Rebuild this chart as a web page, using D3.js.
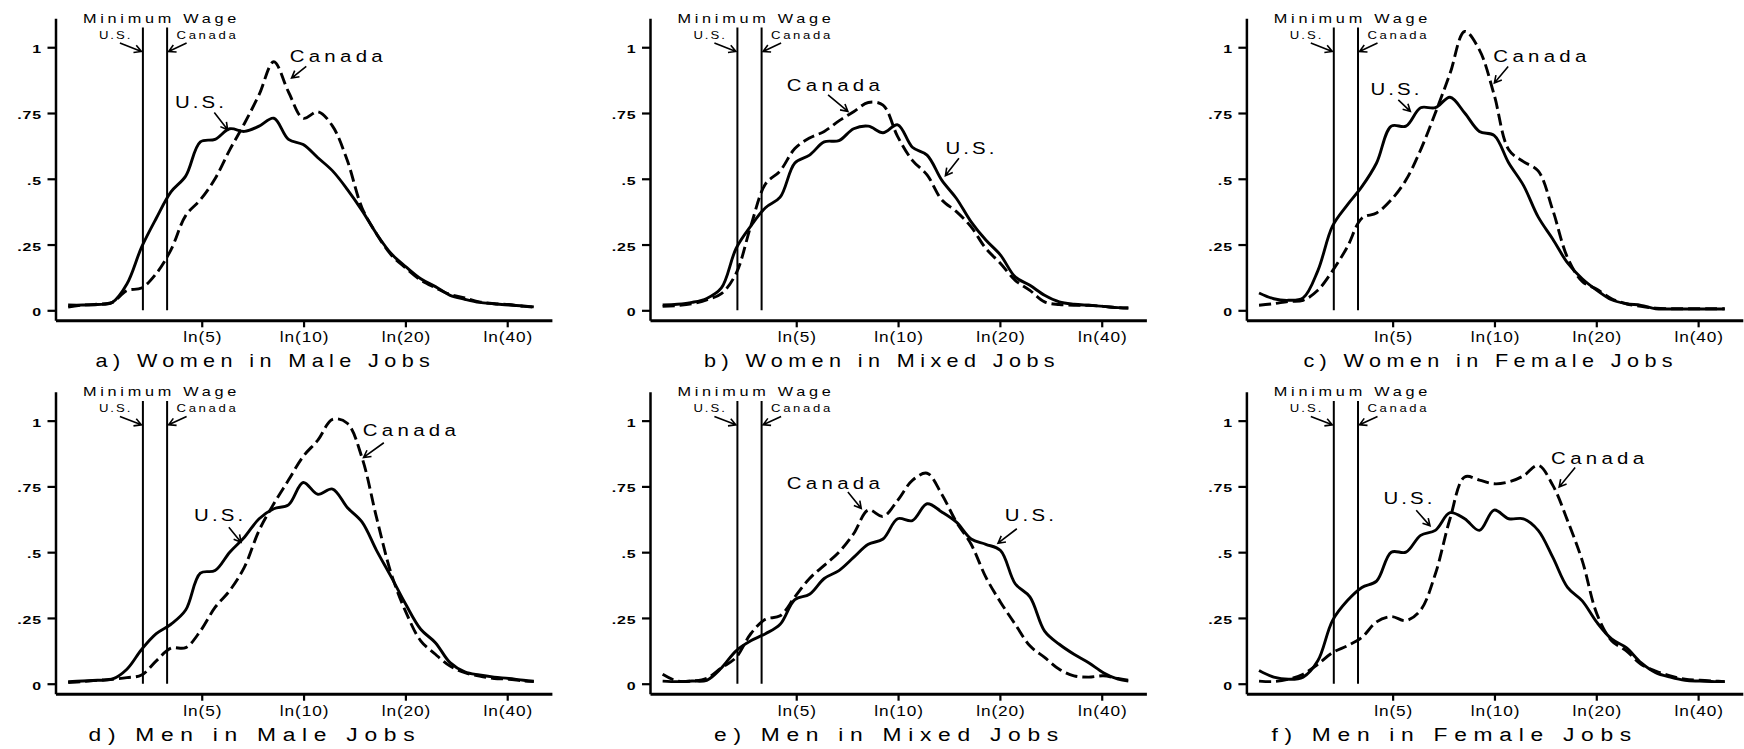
<!DOCTYPE html>
<html><head><meta charset="utf-8">
<script src="https://cdn.jsdelivr.net/npm/d3@7"></script>
<style>
html,body{margin:0;padding:0;background:#fff;}
svg{display:block;}
text{font-family:"Liberation Sans",Arial,Helvetica,sans-serif;fill:#000;}
</style></head><body>
<svg id="chart" width="1744" height="749"></svg>
<script>
// ---- data ----
const lnWage = [0.7,0.8,0.9,1.0,1.1,1.2,1.3,1.4,1.5,1.6,1.7,1.8,1.9,2.0,2.1,2.2,2.3,2.4,2.5,2.6,2.7,2.8,2.9,3.0,3.1,3.2,3.3,3.4,3.5,3.6,3.7,3.8,3.87];
const xTickWages = [5,10,20,40];
const xTickLabels = ["ln(5)","ln(10)","ln(20)","ln(40)"];
const yTickValues = [0,0.25,0.5,0.75,1];
const yTickLabels = ["0",".25",".5",".75","1"];
const minWageUS = 3.35, minWageCanada = 3.95;
const panelTitles = ["a) Women in Male Jobs","b) Women in Mixed Jobs","c) Women in Female Jobs","d) Men in Male Jobs","e) Men in Mixed Jobs","f) Men in Female Jobs"];

const usA = [0.02,0.02,0.022,0.03,0.10,0.24,0.35,0.45,0.51,0.64,0.65,0.69,0.68,0.70,0.73,0.65,0.63,0.58,0.53,0.46,0.38,0.29,0.215,0.165,0.12,0.09,0.057,0.042,0.03,0.025,0.02,0.017,0.013];
const canadaA = [0.012,0.02,0.023,0.03,0.075,0.085,0.14,0.23,0.36,0.42,0.50,0.61,0.71,0.82,0.945,0.83,0.73,0.755,0.70,0.57,0.39,0.29,0.21,0.16,0.115,0.086,0.06,0.047,0.032,0.025,0.022,0.015,0.012];
const usB = [0.02,0.023,0.03,0.045,0.085,0.235,0.32,0.39,0.43,0.56,0.59,0.64,0.645,0.69,0.70,0.675,0.705,0.62,0.59,0.495,0.425,0.336,0.267,0.21,0.127,0.095,0.057,0.032,0.023,0.019,0.015,0.01,0.009];
const canadaB = [0.015,0.018,0.025,0.04,0.063,0.14,0.32,0.48,0.53,0.615,0.655,0.68,0.72,0.755,0.79,0.78,0.66,0.57,0.515,0.42,0.375,0.317,0.235,0.178,0.114,0.076,0.032,0.022,0.019,0.019,0.015,0.01,0.009];
const usC = [0.066,0.044,0.038,0.047,0.15,0.32,0.40,0.47,0.56,0.70,0.70,0.77,0.77,0.81,0.75,0.68,0.665,0.56,0.475,0.355,0.27,0.18,0.12,0.076,0.04,0.025,0.019,0.006,0.005,0.005,0.005,0.005,0.005];
const canadaC = [0.019,0.025,0.034,0.038,0.076,0.15,0.24,0.35,0.37,0.42,0.495,0.61,0.75,0.90,1.06,0.99,0.82,0.61,0.565,0.53,0.38,0.20,0.11,0.08,0.044,0.025,0.015,0.008,0.006,0.006,0.006,0.006,0.006];
const usD = [0.008,0.01,0.013,0.017,0.055,0.13,0.19,0.226,0.28,0.42,0.43,0.50,0.557,0.627,0.665,0.68,0.765,0.72,0.74,0.67,0.615,0.506,0.405,0.30,0.207,0.156,0.08,0.045,0.033,0.025,0.02,0.013,0.01];
const canadaD = [0.004,0.008,0.013,0.017,0.023,0.033,0.087,0.135,0.137,0.20,0.29,0.354,0.443,0.583,0.684,0.774,0.864,0.926,1.005,0.99,0.86,0.63,0.417,0.271,0.163,0.112,0.067,0.042,0.029,0.02,0.017,0.01,0.008];
const usE = [0.01,0.008,0.01,0.013,0.06,0.125,0.163,0.19,0.226,0.32,0.34,0.40,0.43,0.48,0.53,0.55,0.627,0.62,0.684,0.653,0.614,0.55,0.53,0.506,0.38,0.33,0.20,0.15,0.112,0.08,0.042,0.017,0.01];
const canadaE = [0.036,0.01,0.01,0.02,0.06,0.10,0.19,0.245,0.258,0.33,0.40,0.45,0.50,0.57,0.66,0.636,0.697,0.773,0.80,0.72,0.614,0.53,0.405,0.31,0.226,0.144,0.10,0.055,0.03,0.025,0.03,0.02,0.013];
const usF = [0.05,0.025,0.017,0.025,0.087,0.24,0.315,0.366,0.39,0.50,0.50,0.564,0.583,0.65,0.627,0.583,0.66,0.627,0.627,0.583,0.48,0.366,0.315,0.233,0.17,0.137,0.08,0.042,0.025,0.013,0.01,0.008,0.008];
const canadaF = [0.01,0.008,0.017,0.036,0.074,0.118,0.144,0.176,0.235,0.255,0.24,0.28,0.417,0.627,0.786,0.774,0.76,0.767,0.79,0.83,0.754,0.62,0.468,0.265,0.163,0.125,0.074,0.048,0.03,0.017,0.013,0.01,0.008];

const usSeries = [usA,usB,usC,usD,usE,usF];
const canadaSeries = [canadaA,canadaB,canadaC,canadaD,canadaE,canadaF];

// ---- layout (pixels / label anchor positions in data units) ----
const colX = [55.5, 650, 1246.4];
const rowTop = [18.3, 391.7];
const plotW = 496.4, plotH = 302;
const titleBase = [367, 741];
const titleDx = [40, 54, 57, 33, 64, 25];
const titleSize = [18, 19];
const titleSpacing = [4.5, 5.6];
// [labelX, labelY, arrowTailX, arrowTailY, arrowHeadX, arrowHeadY] in (ln wage, density)
const canadaNote = [
  [2.208,0.942, 2.321,0.927, 2.221,0.883],
  [1.545,0.832, 1.826,0.819, 1.961,0.756],
  [2.295,0.942, 2.396,0.927, 2.302,0.864],
  [2.706,0.942, 2.849,0.916, 2.711,0.860],
  [1.545,0.742, 1.961,0.729, 2.052,0.666],
  [2.688,0.835, 2.852,0.822, 2.743,0.748]];
const usNote = [
  [1.427,0.769, 1.695,0.752, 1.786,0.686],
  [2.625,0.595, 2.717,0.578, 2.625,0.512],
  [1.458,0.819, 1.648,0.800, 1.730,0.756],
  [1.557,0.618, 1.794,0.595, 1.877,0.538],
  [3.029,0.618, 3.111,0.589, 2.983,0.534],
  [1.547,0.685, 1.770,0.659, 1.864,0.600]];

const svg = d3.select("#chart");
const x = d3.scaleLinear().domain([0.614, 3.993]).range([0, plotW]);
const y = d3.scaleLinear().domain([-0.038, 1.11]).range([plotH, 0]);
const line = d3.line().x(d => x(d[0])).y(d => y(d[1])).curve(d3.curveCatmullRom.alpha(0.5));

function arrow(g, x1, y1, x2, y2) {
  const a = Math.atan2(y2 - y1, x2 - x1), L = 8, w = 0.5;
  const p = `M${x1},${y1}L${x2},${y2}M${x2 - L*Math.cos(a - w)},${y2 - L*Math.sin(a - w)}L${x2},${y2}L${x2 - L*Math.cos(a + w)},${y2 - L*Math.sin(a + w)}`;
  g.append("path").attr("d", p).attr("fill", "none").attr("stroke", "#000").attr("stroke-width", 1.6);
}
// text whose glyphs are widened horizontally, as in the reference scan
function wideText(g, X, Y, str, size, sx, ls, anchor) {
  return g.append("text").attr("transform", `translate(${X},${Y}) scale(${sx},1)`)
    .attr("font-size", size).attr("letter-spacing", ls)
    .attr("text-anchor", anchor || "start").text(str);
}

panelTitles.forEach((title, i) => {
  const row = Math.floor(i / 3), col = i % 3;
  const g = svg.append("g").attr("transform", `translate(${colX[col]},${rowTop[row]})`);

  // axes
  const yAx = g.append("g").call(d3.axisLeft(y).tickValues(yTickValues)
      .tickFormat((d, k) => yTickLabels[k]).tickSize(8).tickSizeOuter(0));
  yAx.select(".domain").attr("stroke-width", 2.5);
  yAx.selectAll(".tick line").attr("stroke-width", 2.2);
  yAx.selectAll(".tick text").attr("font-size", 11).attr("font-weight", "bold")
     .attr("letter-spacing", 0.6).attr("transform", "scale(1.45,1)")
     .attr("x", -13.5 / 1.45).attr("dy", "0.5em")
     .style("font-family", '"Liberation Sans",Arial,sans-serif');

  const xAx = g.append("g").attr("transform", `translate(0,${plotH})`)
    .call(d3.axisBottom(x).tickValues(xTickWages.map(Math.log))
      .tickFormat((d, k) => xTickLabels[k]).tickSize(7).tickSizeOuter(0));
  xAx.select(".domain").attr("stroke-width", 3);
  xAx.selectAll(".tick line").attr("stroke-width", 2.2);
  xAx.selectAll(".tick text").attr("font-size", 15).attr("letter-spacing", 0.8)
     .attr("transform", "scale(1.15,1)")
     .attr("y", 22).attr("dy", 0).attr("dx", 0.5)
     .style("font-family", '"Liberation Sans",Arial,sans-serif');

  // minimum wage lines
  const xu = x(Math.log(minWageUS)), xc = x(Math.log(minWageCanada));
  [xu, xc].forEach(xx => g.append("line").attr("x1", xx).attr("x2", xx)
    .attr("y1", y(0)).attr("y2", y(1.075)).attr("stroke", "#000").attr("stroke-width", 2));
  wideText(g, xu - 60, y(1.094), "Minimum Wage", 13, 1.25, 3);
  wideText(g, xu - 10.5, y(1.031), "U.S.", 10.5, 1.25, 1.6, "end");
  wideText(g, xc + 9.5, y(1.031), "Canada", 10.5, 1.25, 2.1);
  arrow(g, xu - 23, y(1.016), xu - 1.5, y(0.984));
  arrow(g, xc + 19.5, y(1.016), xc + 1.5, y(0.984));

  // density curves
  g.append("path").datum(lnWage.map((w, k) => [w, usSeries[i][k]]))
    .attr("d", line).attr("fill", "none").attr("stroke", "#000").attr("stroke-width", 2.9)
    .attr("stroke-linejoin", "round");
  g.append("path").datum(lnWage.map((w, k) => [w, canadaSeries[i][k]]))
    .attr("d", line).attr("fill", "none").attr("stroke", "#000").attr("stroke-width", 2.9)
    .attr("stroke-dasharray", "12,5");

  // annotations
  const cn = canadaNote[i], un = usNote[i];
  wideText(g, x(cn[0]), y(cn[1]), "Canada", 17, 1.2, 3.6);
  arrow(g, x(cn[2]), y(cn[3]), x(cn[4]), y(cn[5]));
  wideText(g, x(un[0]), y(un[1]), "U.S.", 17, 1.2, 2.6);
  arrow(g, x(un[2]), y(un[3]), x(un[4]), y(un[5]));

  // panel title
  wideText(svg, colX[col] + titleDx[i], titleBase[row], title, titleSize[row], 1.2, titleSpacing[row]);
});
</script>
</body></html>
